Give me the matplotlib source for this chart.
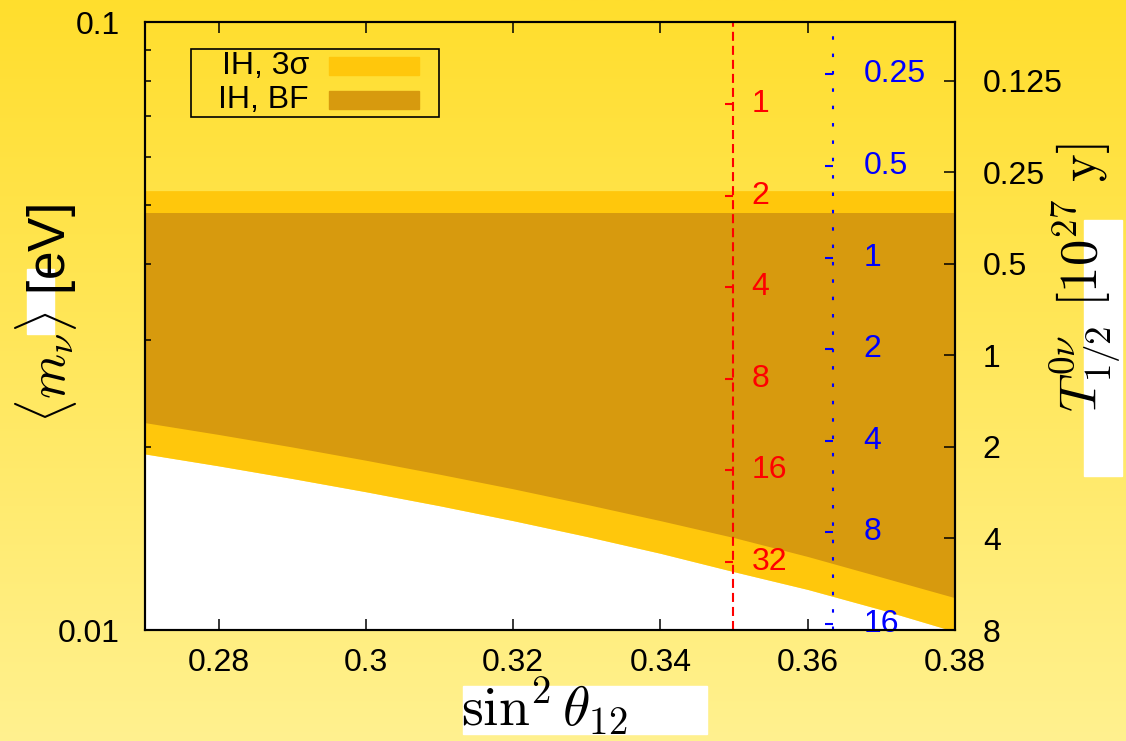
import numpy as np
import matplotlib.pyplot as plt
from matplotlib.patches import Rectangle

plt.rcParams['font.family'] = ['Liberation Sans', 'DejaVu Sans']
plt.rcParams['mathtext.fontset'] = 'cm'
plt.rcParams['lines.scale_dashes'] = False

# sin^2(theta_12) grid and band edges
sin2_th12 = [0.27, 0.28, 0.29, 0.30, 0.31, 0.32, 0.33, 0.34, 0.35, 0.36, 0.37, 0.38]
m_3s_low = [0.01948, 0.01862, 0.01775, 0.01688, 0.01601, 0.01513,
            0.01425, 0.01337, 0.01247, 0.01166, 0.01080, 0.00994]
m_bf_low = [0.02193, 0.02097, 0.02000, 0.01902, 0.01804, 0.01707,
            0.01609, 0.01513, 0.01419, 0.01321, 0.01222, 0.01130]
m_3s_up = 0.0528
m_bf_up = 0.0486

# half-life scales, T = C / <m>^2
T_main = [0.125, 0.25, 0.5, 1, 2, 4, 8]
T_red = [1, 2, 4, 8, 16, 32]
T_blue = [0.25, 0.5, 1, 2, 4, 8, 16]
C_main, C_red, C_blue = 0.0008, 0.00537, 0.00168
x_red, x_blue = 0.3499, 0.3634

x_ticks = [0.28, 0.30, 0.32, 0.34, 0.36, 0.38]
x_ticklabels = ['0.28', '0.3', '0.32', '0.34', '0.36', '0.38']

W, H = 1126, 741


def fx(px):
    return px / W


def fy(py):
    return 1 - py / H


def main():
    fig = plt.figure(figsize=(W / 100, H / 100), dpi=100)

    # yellow gradient background
    bg = fig.add_axes([0, 0, 1, 1], zorder=-10)
    top = np.array([255, 222, 45]) / 255
    bot = np.array([255, 241, 143]) / 255
    t = np.linspace(0, 1, 256)[:, None]
    grad = (top[None, :] * (1 - t) + bot[None, :] * t)[:, None, :]
    bg.imshow(grad, aspect='auto', extent=[0, 1, 0, 1])
    bg.axis('off')

    # white boxes left behind by the label rendering
    for x0, y0, x1, y1 in [(27, 269, 54, 334), (463, 686, 707, 734), (1084, 220, 1122, 476)]:
        fig.add_artist(Rectangle((fx(x0), fy(y1)), fx(x1) - fx(x0), fy(y0) - fy(y1),
                                 transform=fig.transFigure, color='white', zorder=-1))

    ax = fig.add_axes([fx(145), fy(630), fx(955) - fx(145), fy(22) - fy(630)])
    ax.patch.set_alpha(0)

    x = np.array(sin2_th12)
    ax.fill_between(x, 0.005, m_3s_low, color='white', lw=0)
    ax.fill_between(x, m_3s_low, m_3s_up, color='#FFC70C', lw=0)
    ax.fill_between(x, m_bf_low, m_bf_up, color='#D79A0E', lw=0)

    ax.set_yscale('log')
    ax.set_xlim(0.27, 0.38)
    ax.set_ylim(0.01, 0.1)
    ax.set_xticks(x_ticks)
    ax.set_xticklabels(x_ticklabels)
    ax.set_yticks([0.01, 0.1])
    ax.set_yticklabels(['0.01', '0.1'])
    ax.set_yticks([0.02, 0.03, 0.04, 0.05, 0.06, 0.07, 0.08, 0.09], minor=True)
    ax.yaxis.set_minor_formatter(plt.NullFormatter())
    ax.tick_params(axis='x', which='both', direction='in', top=True, length=8, width=1.1,
                   labelsize=23, pad=13)
    ax.tick_params(axis='y', which='both', direction='in', right=False, length=4.5, width=1.1,
                   labelsize=23, pad=18)
    for s in ax.spines.values():
        s.set_linewidth(1.5)

    # red and blue half-life scales
    for xl, C, Ts, col, dash, off in [(x_red, C_red, T_red, 'red', (6.5, 3.6), 13),
                                      (x_blue, C_blue, T_blue, 'blue', (2.5, 10), 22)]:
        ax.axvline(xl, color=col, lw=1.5, dashes=dash)
        ms = np.sqrt(C / np.array(Ts, dtype=float))
        ax.plot([xl] * len(Ts), ms, ls='none', marker=0, ms=6, mew=1.5, color=col)
        for T, m in zip(Ts, ms):
            ax.annotate(f'{T:g}', (xl, m), xytext=(off, 0), textcoords='offset points',
                        va='center', ha='left', color=col, fontsize=23)

    ax.set_xlabel(r'$\sin^2\theta_{12}$', fontsize=40)
    ax.xaxis.set_label_coords((544 - 145) / 810, -(707 - 630) / 608)
    ax.xaxis.label.set_va('center')
    ax.set_ylabel(r'$\langle m_\nu \rangle$ [eV]', fontsize=37)
    ax.yaxis.label.set(ha='center', va='center', rotation_mode='default')
    ax.yaxis.set_label_coords((46 - 145) / 810, 1 - (314 - 22) / 608)

    ax2 = ax.twinx()
    ax2.patch.set_alpha(0)
    ax2.set_yscale('log')
    ax2.set_ylim(C_main / 0.01 ** 2, C_main / 0.1 ** 2)
    ax2.set_yticks(T_main)
    ax2.set_yticklabels([f'{T:g}' for T in T_main])
    ax2.yaxis.set_minor_locator(plt.NullLocator())
    ax2.tick_params(axis='y', direction='in', length=8, width=1.1, labelsize=23, pad=20)
    for s in ax2.spines.values():
        s.set_linewidth(1.5)
    ax2.set_ylabel(r'$T^{0\nu}_{1/2}\ [10^{27}\ \mathrm{y}]$', fontsize=38)
    ax2.yaxis.label.set(ha='center', va='center', rotation_mode='default')
    ax2.yaxis.set_label_coords((1086 - 145) / 810, 1 - (278 - 22) / 608)

    # legend box
    fig.add_artist(Rectangle((fx(191), fy(117)), fx(439) - fx(191), fy(49) - fy(117),
                             transform=fig.transFigure, fill=False, ec='black', lw=1.2))
    for label, col, yc in [('IH, 3σ', '#FFC70C', 66), ('IH, BF', '#D79A0E', 100)]:
        fig.text(fx(309), fy(yc), label, ha='right', va='center', fontsize=23)
        fig.add_artist(Rectangle((fx(329), fy(yc + 9)), fx(419) - fx(329), fy(yc - 9) - fy(yc + 9),
                                 transform=fig.transFigure, color=col))

    fig.savefig('out.png', dpi=100)


if __name__ == "__main__":
    main()
